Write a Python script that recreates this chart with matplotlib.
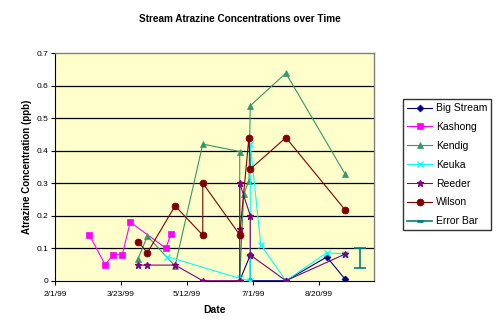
import matplotlib
matplotlib.use("Agg")
import matplotlib.pyplot as plt
from matplotlib.lines import Line2D
import pandas as pd

plt.rcParams['font.family'] = ['Liberation Sans', 'DejaVu Sans']

# sample dates and atrazine concentrations (ppb)
big_stream_dates = ['1999-06-21', '1999-06-29', '1999-06-29', '1999-07-26', '1999-08-26', '1999-09-09']
big_stream_vals = [0.0, 0.079, 0.0, 0.0, 0.073, 0.004]

kashong_dates = ['1999-02-27', '1999-03-11', '1999-03-17', '1999-03-24', '1999-03-30', '1999-04-26', '1999-04-30']
kashong_vals = [0.141, 0.049, 0.08, 0.08, 0.18, 0.10, 0.145]

kendig_dates = ['1999-04-05', '1999-04-12', '1999-05-03', '1999-05-24', '1999-06-21', '1999-06-21',
                '1999-06-24', '1999-06-28', '1999-06-29', '1999-07-26', '1999-09-09']
kendig_vals = [0.068, 0.137, 0.045, 0.42, 0.397, 0.0, 0.266, 0.307, 0.538, 0.638, 0.327]

keuka_dates = ['1999-04-27', '1999-06-21', '1999-06-29', '1999-06-29', '1999-07-07', '1999-07-26',
               '1999-08-26', '1999-09-09']
keuka_vals = [0.074, 0.007, 0.0, 0.42, 0.11, 0.0, 0.086, 0.082]

reeder_dates = ['1999-04-05', '1999-04-12', '1999-05-03', '1999-05-24', '1999-06-21', '1999-06-21',
                '1999-06-21', '1999-06-29', '1999-06-29', '1999-07-26', '1999-09-09']
reeder_vals = [0.048, 0.048, 0.048, 0.0, 0.0, 0.158, 0.30, 0.20, 0.079, 0.0, 0.082]

wilson_dates = ['1999-04-05', '1999-04-12', '1999-05-03', '1999-05-24', '1999-05-24', '1999-06-21',
                '1999-06-28', '1999-06-29', '1999-07-26', '1999-09-09']
wilson_vals = [0.12, 0.086, 0.23, 0.14, 0.30, 0.141, 0.44, 0.343, 0.44, 0.217]

error_date = ['1999-09-20']
error_val = [0.07]
error_size = [0.03]

x_ticks = ['1999-02-01', '1999-03-23', '1999-05-12', '1999-07-01', '1999-08-20']
x_range = ['1999-02-01', '1999-10-01']

series = [
    ('Big Stream', big_stream_dates, big_stream_vals, '#000080', 'D', 3.5),
    ('Kashong', kashong_dates, kashong_vals, '#FF00FF', 's', 4.5),
    ('Kendig', kendig_dates, kendig_vals, '#339966', '^', 4.5),
    ('Keuka', keuka_dates, keuka_vals, '#00FFFF', 'x', 4),
    ('Reeder', reeder_dates, reeder_vals, '#800080', '*', 5),
    ('Wilson', wilson_dates, wilson_vals, '#800000', 'o', 5),
]

fig = plt.figure(figsize=(5.02, 3.36), dpi=100)
ax = fig.add_axes([55 / 502, 1 - 280.7 / 336, 319.3 / 502, 227.7 / 336])
ax.set_facecolor('#FFFFCC')

handles = []
for name, d, v, c, m, ms in series:
    ax.plot(pd.to_datetime(d), v, color=c, marker=m, markersize=ms, linewidth=0.8,
            markeredgewidth=1 if m in 'x*' else 0.5, zorder=3)
    handles.append(Line2D([], [], color=c, marker=m, markersize=ms, linewidth=0.8,
                          markeredgewidth=1 if m in 'x*' else 0.5, label=name))

ax.errorbar(pd.to_datetime(error_date), error_val, yerr=error_size, fmt='none',
            ecolor='#008080', elinewidth=1.2, capsize=4, capthick=1.2, zorder=3)
handles.append(Line2D([], [], color='#008080', marker='_', markersize=5, linewidth=1.2,
                      markeredgewidth=2, label='Error Bar'))

ax.set_ylim(0, 0.7)
ax.set_yticks([0, 0.1, 0.2, 0.3, 0.4, 0.5, 0.6, 0.7])
ax.set_yticklabels(['0', '0.1', '0.2', '0.3', '0.4', '0.5', '0.6', '0.7'])
ax.set_xlim(pd.to_datetime(x_range))
tick_dates = pd.to_datetime(x_ticks)
ax.set_xticks(tick_dates)
ax.set_xticklabels([f'{t.month}/{t.day}/{t.strftime("%y")}' for t in tick_dates])

for y in [0.1, 0.2, 0.3, 0.4, 0.5, 0.6]:
    ax.axhline(y, color='black', linewidth=0.9, zorder=1)

ax.tick_params(labelsize=6, length=3, width=0.8, direction='out')
ax.tick_params(axis='x', pad=4.5)
ax.tick_params(axis='y', pad=1.8)
for s in ['top', 'right']:
    ax.spines[s].set_color('#808080')
    ax.spines[s].set_linewidth(1)
for s in ['left', 'bottom']:
    ax.spines[s].set_color('black')
    ax.spines[s].set_linewidth(0.8)

ax.set_xlabel('Date', fontsize=7.5, fontweight='bold', labelpad=5)
ax.set_ylabel('Atrazine Concentration (ppb)', fontsize=7, fontweight='bold', labelpad=3)
fig.text(240 / 502, 1 - 19 / 336, 'Stream Atrazine Concentrations over Time',
         fontsize=7.2, fontweight='bold', ha='center', va='center')

leg = fig.legend(handles=handles, loc='upper left', bbox_to_anchor=(403 / 502, 1 - 99 / 336),
                 fontsize=7.5, frameon=True, fancybox=False, handlelength=2.4,
                 labelspacing=0.85, borderpad=0.4, handletextpad=0.35, borderaxespad=0)
leg.get_frame().set_edgecolor('black')
leg.get_frame().set_linewidth(1)

fig.savefig('out.png', dpi=100)
